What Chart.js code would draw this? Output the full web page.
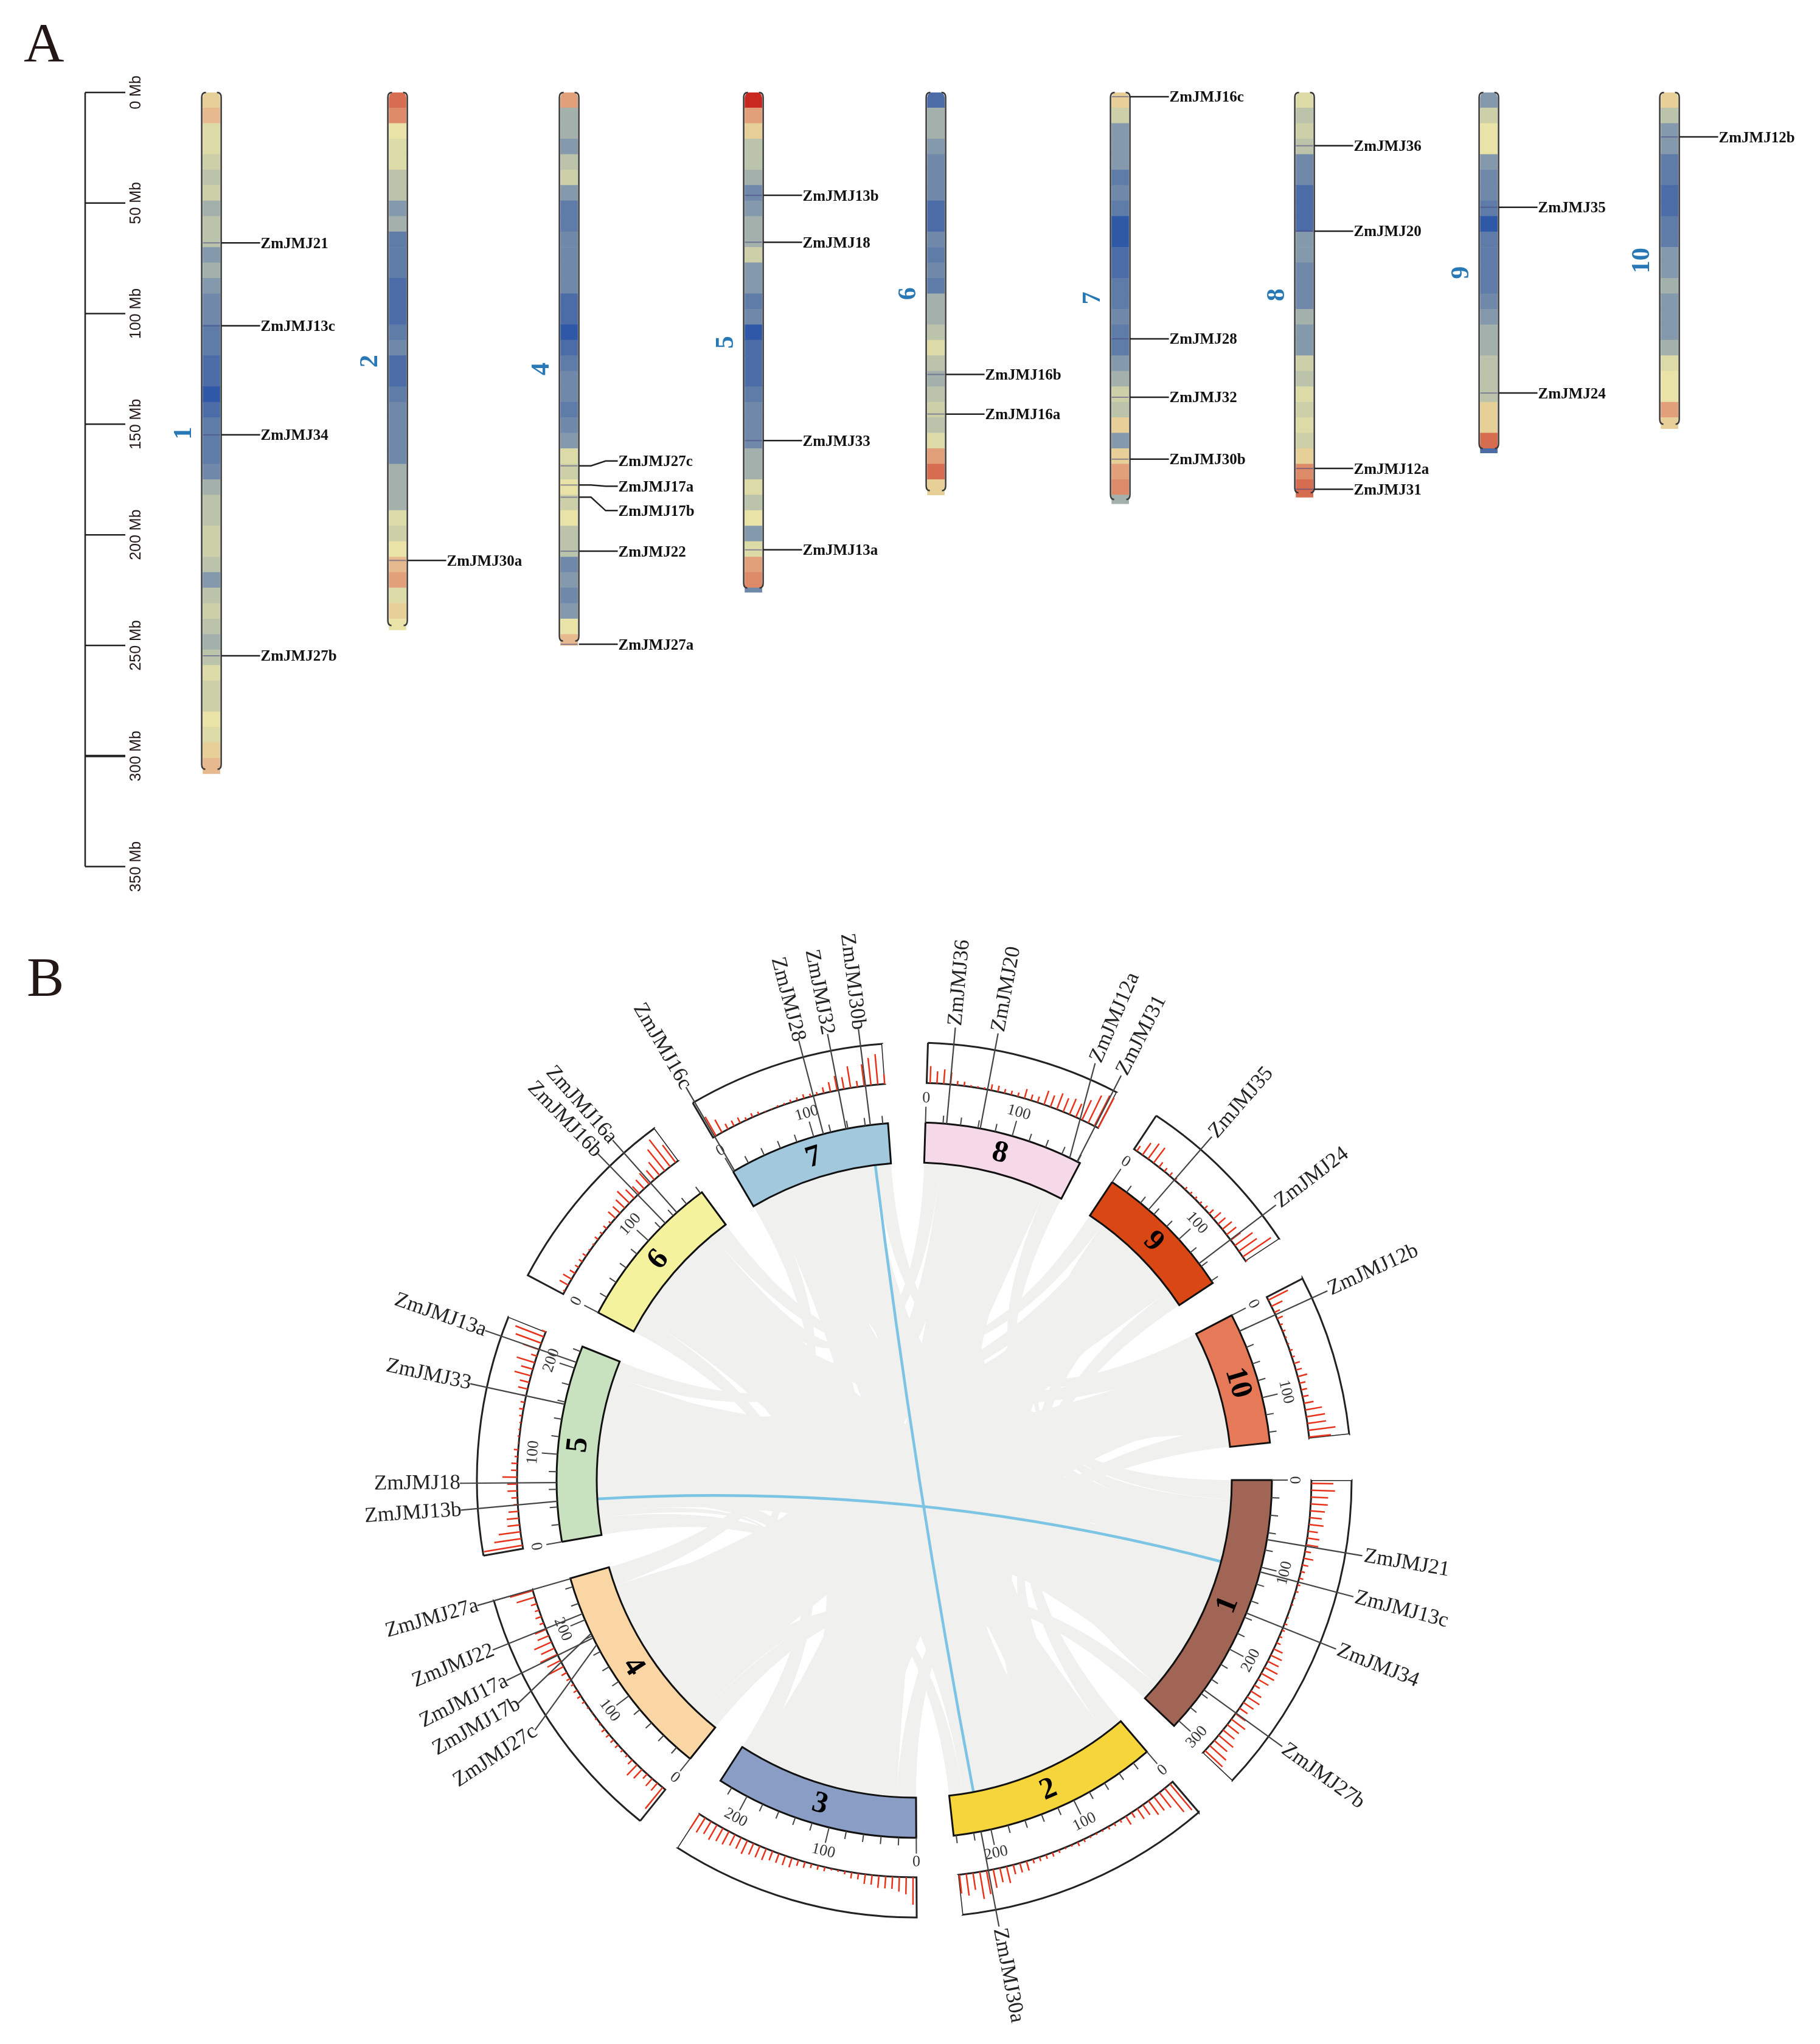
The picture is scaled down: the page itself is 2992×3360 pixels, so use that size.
<!DOCTYPE html>
<html>
<head>
<meta charset="utf-8">
<title>ZmJMJ genes on maize chromosomes</title>
<script src="https://cdn.jsdelivr.net/npm/chart.js@4"></script>
<style>
    html, body { margin: 0; padding: 0; background: #fff; }
    canvas { position: absolute; left: 0; display: block; }
    #mapChart { top: 0; }
    #circosChart { top: 1500px; }
</style>
</head>
<body>
<canvas id="mapChart" width="2992" height="1500"></canvas>
<canvas id="circosChart" width="2992" height="1860"></canvas>
<script>
//CHROMOSOMES
const chromNames = ['1', '2', '3', '4', '5', '6', '7', '8', '9', '10'];
const chromLengths = [308, 243, 235, 250, 226, 182, 186, 183, 163, 152];
const mapChroms = [1, 2, 4, 5, 6, 7, 8, 9, 10];
const binMb = 7;

//GENE DENSITY LEVEL PER 7 Mb BIN (0 = POOREST, 15 = RICHEST)
const density1 = [10, 11, 8, 8, 7, 6, 7, 5, 6, 6, 4, 5, 4, 3, 3, 2, 2, 1, 1, 0, 1, 2, 2, 2, 3, 5, 6, 6, 7, 7, 6, 4, 6, 7, 6, 5, 6, 8, 7, 7, 9, 8, 10, 11];
const density2 = [14, 13, 9, 8, 8, 6, 6, 4, 5, 2, 2, 2, 1, 1, 1, 2, 3, 1, 1, 2, 3, 3, 3, 3, 5, 5, 5, 8, 7, 9, 11, 12, 8, 10, 9];
const density3 = [12, 8, 7, 6, 6, 6, 5, 5, 4, 4, 2, 1, 1, 3, 3, 3, 4, 4, 5, 5, 5, 5, 6, 6, 6, 7, 6, 6, 7, 7, 8, 7, 8, 8];
const density4 = [12, 5, 5, 4, 6, 7, 4, 2, 2, 3, 3, 3, 3, 1, 1, 0, 1, 2, 3, 3, 2, 3, 4, 8, 7, 9, 7, 9, 6, 6, 3, 4, 3, 4, 9, 11];
const density5 = [15, 12, 10, 6, 6, 5, 3, 4, 5, 5, 7, 4, 4, 2, 3, 0, 1, 1, 1, 2, 3, 3, 3, 5, 5, 8, 6, 9, 4, 8, 12, 13, 3];
const density6 = [1, 5, 5, 4, 3, 3, 3, 1, 1, 3, 2, 3, 2, 5, 5, 6, 8, 6, 5, 6, 7, 6, 8, 12, 14, 10];
const density7 = [10, 7, 4, 4, 4, 2, 3, 2, 0, 0, 1, 1, 2, 2, 3, 2, 2, 4, 5, 7, 6, 10, 4, 10, 12, 13, 5];
const density8 = [8, 6, 7, 6, 3, 3, 1, 1, 1, 4, 4, 3, 3, 3, 5, 4, 4, 7, 6, 8, 7, 8, 7, 10, 13, 14, 14];
const density9 = [4, 7, 9, 9, 4, 3, 3, 2, 0, 2, 2, 2, 2, 3, 4, 5, 5, 6, 6, 6, 10, 10, 14, 1];
const density10 = [10, 6, 4, 4, 2, 2, 1, 1, 2, 2, 4, 4, 5, 4, 4, 4, 5, 8, 9, 9, 12, 10];
const densityByChrom = [density1, density2, density3, density4, density5, density6, density7, density8, density9, density10];
const levelCounts = [1.5, 3, 5, 7, 10, 16, 20, 24, 28, 31, 36, 39, 45, 50, 56, 64];

//GENES
const geneNames = ['ZmJMJ21', 'ZmJMJ13c', 'ZmJMJ34', 'ZmJMJ27b', 'ZmJMJ30a', 'ZmJMJ27c', 'ZmJMJ17a', 'ZmJMJ17b', 'ZmJMJ22', 'ZmJMJ27a',
    'ZmJMJ13b', 'ZmJMJ18', 'ZmJMJ33', 'ZmJMJ13a', 'ZmJMJ16b', 'ZmJMJ16a', 'ZmJMJ16c', 'ZmJMJ28', 'ZmJMJ32', 'ZmJMJ30b',
    'ZmJMJ36', 'ZmJMJ20', 'ZmJMJ12a', 'ZmJMJ31', 'ZmJMJ35', 'ZmJMJ24', 'ZmJMJ12b'];
const geneChroms = [1, 1, 1, 1, 2, 4, 4, 4, 4, 4, 5, 5, 5, 5, 6, 6, 7, 7, 7, 7, 8, 8, 8, 8, 9, 9, 10];
const geneMb = [68, 105.5, 154.8, 254.7, 211.6, 168.8, 177.5, 183, 207.4, 249.5, 46.5, 67.7, 157.4, 206.8, 127.5, 145.4, 1.9, 111.4, 137.8, 165.8, 24.1, 62.7, 170, 179.4, 51.9, 135.9, 20.1];

//AXIS TICKS
const mapTickStep = 50;
const mapMaxMb = 350;
const circosMinorStep = 20;
const circosMajorStep = 100;

//SYNTENY BLOCKS: CHROM A, START, END, CHROM B, START, END
const blocks = [
    //EXTREMOS DE CADA CROMOSOMA, CIERRAN LAS CUNAS BLANCAS
    [8, 160, 183, 1, 0, 25],
    [2, 0, 25, 9, 140, 163],
    [1, 285, 308, 4, 0, 25],
    [3, 0, 25, 10, 125, 152],
    [2, 225, 243, 5, 0, 22],
    [3, 210, 235, 6, 0, 22],
    [4, 225, 250, 7, 0, 22],
    [5, 205, 226, 8, 0, 20],
    [6, 160, 182, 9, 0, 20],
    [7, 165, 186, 10, 0, 20],
    //CUERPO DE LOS CROMOSOMAS
    [1, 25, 50, 9, 20, 40],
    [1, 50, 75, 8, 25, 50],
    [1, 75, 100, 7, 120, 145],
    [1, 100, 125, 5, 175, 205],
    [1, 125, 150, 6, 100, 125],
    [1, 150, 175, 5, 130, 155],
    [1, 175, 200, 4, 200, 225],
    [1, 200, 225, 5, 70, 95],
    [1, 225, 255, 5, 30, 55],
    [1, 255, 285, 9, 90, 115],
    [2, 25, 50, 7, 22, 45],
    [2, 50, 75, 10, 20, 40],
    [2, 75, 100, 7, 45, 70],
    [2, 100, 125, 10, 40, 60],
    [2, 125, 150, 7, 70, 95],
    [2, 150, 175, 4, 25, 50],
    [2, 175, 200, 10, 60, 85],
    [2, 200, 225, 6, 22, 45],
    [3, 25, 50, 8, 50, 75],
    [3, 50, 75, 10, 85, 110],
    [3, 75, 100, 8, 75, 100],
    [3, 100, 125, 9, 40, 60],
    [3, 125, 150, 8, 100, 125],
    [3, 150, 175, 6, 45, 70],
    [3, 175, 210, 8, 125, 160],
    [4, 50, 75, 9, 60, 75],
    [4, 75, 100, 7, 95, 120],
    [4, 100, 125, 9, 75, 90],
    [4, 125, 150, 6, 70, 100],
    [4, 150, 175, 8, 45, 60],
    [4, 175, 200, 9, 115, 140],
    [5, 95, 130, 7, 145, 165],
    [5, 155, 175, 10, 110, 125],
    [5, 22, 30, 4, 50, 60],
    [5, 55, 70, 3, 60, 80],
    [6, 125, 160, 7, 120, 145],
    //BLOQUES QUE CRUZAN EL CENTRO
    [1, 30, 60, 4, 120, 150],
    [1, 60, 90, 3, 130, 160],
    [1, 140, 170, 8, 60, 90],
    [1, 180, 215, 7, 30, 60],
    [1, 240, 270, 6, 130, 155],
    [2, 30, 60, 5, 120, 150],
    [2, 90, 120, 9, 50, 80],
    [2, 160, 190, 8, 110, 135],
    [2, 40, 70, 6, 60, 85],
    [3, 40, 70, 5, 40, 70],
    [3, 110, 140, 7, 100, 125],
    [3, 185, 215, 9, 100, 125],
    [4, 40, 70, 10, 30, 60],
    [4, 110, 140, 8, 20, 45],
    [4, 190, 220, 10, 90, 115],
    [5, 150, 180, 9, 30, 55],
    [5, 60, 90, 10, 60, 85],
    [6, 80, 110, 10, 10, 35],
    [6, 30, 60, 1, 110, 135],
    [7, 20, 50, 3, 60, 90],
    [7, 130, 160, 1, 210, 240],
    [8, 90, 120, 4, 60, 85],
    [9, 60, 90, 5, 100, 125],
    [10, 100, 130, 7, 60, 85],
    //BLOQUES ANCHOS OPUESTOS
    [1, 40, 90, 6, 40, 90],
    [1, 120, 170, 6, 60, 110],
    [1, 200, 250, 6, 100, 150],
    [1, 60, 110, 7, 60, 110],
    [1, 160, 210, 7, 100, 150],
    [1, 230, 280, 7, 20, 70],
    [2, 40, 90, 7, 100, 150],
    [2, 110, 160, 7, 40, 90],
    [2, 170, 220, 7, 30, 70],
    [2, 40, 90, 8, 60, 110],
    [2, 130, 180, 8, 30, 80],
    [2, 190, 225, 8, 90, 140],
    [3, 30, 80, 8, 90, 140],
    [3, 100, 150, 8, 30, 80],
    [3, 160, 205, 8, 60, 100],
    [3, 40, 90, 9, 60, 110],
    [3, 110, 160, 9, 30, 80],
    [3, 170, 205, 9, 90, 130],
    [4, 30, 80, 9, 90, 130],
    [4, 100, 150, 9, 30, 80],
    [4, 160, 215, 9, 60, 110],
    [4, 30, 80, 10, 60, 110],
    [4, 100, 150, 10, 30, 70],
    [4, 170, 215, 10, 80, 120],
    [5, 30, 80, 10, 70, 120],
    [5, 100, 150, 10, 30, 80],
    [5, 160, 200, 10, 50, 100],
    [5, 30, 80, 1, 150, 200],
    [5, 90, 140, 1, 40, 90],
    [5, 150, 200, 1, 220, 270],
    [6, 30, 80, 2, 100, 150],
    [6, 90, 150, 2, 160, 210],
    [6, 40, 90, 3, 100, 150]
];

//DUPLICATED GENE PAIRS
const genePairs = [['ZmJMJ13b', 'ZmJMJ13c'], ['ZmJMJ30a', 'ZmJMJ30b']];

//STYLES AND LAYOUT
const heatColors = ['#2f58a6', '#4c6ca8', '#5f7ca9', '#7088aa', '#8499ac', '#a3b0ab', '#bcc3ab', '#cdcfa9', '#dcdba8', '#e9e3a8',
    '#e7cf98', '#e6ba8e', '#e19f7a', '#dd8a68', '#d66c50', '#c8281f'];
const ideogramColors = ['#a06555', '#f5d53a', '#8a9dc4', '#f9d6a3', '#c8e2bf', '#f4f29d', '#a1c8dc', '#f6d9e8', '#d94715', '#e67a58'];
const columnSlots = [0, 1.02, 1.96, 2.97, 3.97, 4.98, 5.99, 7.0, 7.99];
const mapLabelShift = { ZmJMJ27c: -8, ZmJMJ17a: 2, ZmJMJ17b: 22 };
const labelFan = { ZmJMJ12a: -2.3, ZmJMJ17b: -4, ZmJMJ27c: -6, ZmJMJ13b: -0.4 };
const gapMb = 42.56;
const serif = '"Liberation Serif"';
const sans = '"Liberation Sans"';

//ARMA LAS BARRAS DEL MAPA
var mapBins = [];
mapChroms.forEach(function (chrom, c) {
    var levels = densityByChrom[chrom - 1];
    var len = chromLengths[chrom - 1];
    for (var i = 0; i < levels.length; i++) {
        mapBins.push({
            x: columnSlots[c],
            y: [i * binMb, Math.min((i + 1) * binMb, len)],
            level: levels[i],
            first: i == 0
        });
    }
});

//ESQUINAS, EJE, ETIQUETAS Y GENES DEL MAPA
const mapPlugin = {
    id: 'mapPlugin',
    afterDatasetsDraw: function (chart) {
        var ctx = chart.ctx;
        var xs = chart.scales.x;
        var ys = chart.scales.y;
        ctx.save();

        //A
        ctx.fillStyle = '#231815';
        ctx.font = '92px ' + serif;
        ctx.textAlign = 'left';
        ctx.textBaseline = 'alphabetic';
        ctx.fillText('A', 39, 101);

        //ESCALA EN Mb
        ctx.strokeStyle = '#222';
        ctx.lineWidth = 2.5;
        var axisX = 140;
        ctx.beginPath();
        ctx.moveTo(axisX, ys.getPixelForValue(0));
        ctx.lineTo(axisX, ys.getPixelForValue(mapMaxMb));
        ctx.stroke();
        ctx.font = '25px ' + sans;
        ctx.textAlign = 'center';
        ctx.textBaseline = 'middle';
        ys.ticks.forEach(function (t) {
            var y = ys.getPixelForValue(t.value);
            ctx.lineWidth = t.value == 300 ? 4 : 2.5;
            ctx.beginPath();
            ctx.moveTo(axisX, y);
            ctx.lineTo(206, y);
            ctx.stroke();
            ctx.save();
            ctx.translate(224, y);
            ctx.rotate(-Math.PI / 2);
            ctx.fillText(t.value + ' Mb', 0, 0);
            ctx.restore();
        });

        //CONTORNO Y NOMBRE DE CADA CROMOSOMA
        mapChroms.forEach(function (chrom, c) {
            var x = xs.getPixelForValue(columnSlots[c]);
            var len = chromLengths[chrom - 1];
            var top = ys.getPixelForValue(0);
            var bottom = ys.getPixelForValue(len - 2);
            [-1, 1].forEach(function (side) {
                ctx.strokeStyle = '#3a3a3a';
                ctx.lineWidth = 2.5;
                ctx.beginPath();
                ctx.moveTo(x + side * 9, top);
                ctx.quadraticCurveTo(x + side * 16, top, x + side * 16, top + 8);
                ctx.lineTo(x + side * 16, bottom - 8);
                ctx.quadraticCurveTo(x + side * 16, bottom, x + side * 10, bottom);
                ctx.stroke();
            });
            ctx.save();
            ctx.translate(x - 44, ys.getPixelForValue(len / 2));
            ctx.rotate(-Math.PI / 2);
            ctx.fillStyle = '#2878b5';
            ctx.font = 'bold 42px ' + serif;
            ctx.textAlign = 'center';
            ctx.textBaseline = 'middle';
            ctx.fillText(chromNames[chrom - 1], 0, 0);
            ctx.restore();
        });

        //GENES
        geneNames.forEach(function (name, g) {
            var c = mapChroms.indexOf(geneChroms[g]);
            var x = xs.getPixelForValue(columnSlots[c]);
            var y = ys.getPixelForValue(geneMb[g]);
            var labelY = y + (mapLabelShift[name] || 0);
            ctx.strokeStyle = 'rgba(70,70,130,0.55)';
            ctx.lineWidth = 2;
            ctx.beginPath();
            ctx.moveTo(x - 14, y);
            ctx.lineTo(x + 14, y);
            ctx.stroke();
            ctx.strokeStyle = '#222';
            ctx.lineWidth = 2.5;
            ctx.beginPath();
            ctx.moveTo(x + 16, y);
            ctx.lineTo(x + 36, y);
            ctx.lineTo(x + 60, labelY);
            ctx.lineTo(x + 80, labelY);
            ctx.stroke();
            ctx.fillStyle = '#111';
            ctx.font = 'bold 25px ' + serif;
            ctx.textAlign = 'left';
            ctx.textBaseline = 'middle';
            ctx.fillText(name, x + 81, labelY + 2);
        });
        ctx.restore();
    }
};

new Chart(document.getElementById('mapChart').getContext('2d'), {
    type: 'bar',
    data: {
        datasets: [{
            label: 'Gene density',
            data: mapBins,
            backgroundColor: function (c) { return heatColors[c.raw.level]; },
            borderWidth: 0,
            borderSkipped: false,
            borderRadius: function (c) {
                return c.raw.first ? { topLeft: 9, topRight: 9, bottomLeft: 0, bottomRight: 0 } : 0;
            },
            barThickness: 28,
            grouped: false
        }]
    },
    options: {
        responsive: false,
        devicePixelRatio: 1,
        animation: false,
        layout: { padding: { top: 152, bottom: 75.5, left: 0, right: 0 } },
        plugins: { legend: { display: false }, tooltip: { enabled: false } },
        scales: {
            x: { type: 'linear', display: false, offset: false, min: -1.1587, max: 8.8147, grid: { display: false } },
            y: { type: 'linear', display: false, reverse: true, min: 0, max: mapMaxMb, ticks: { stepSize: mapTickStep }, grid: { display: false } }
        }
    },
    plugins: [mapPlugin]
});

//DATOS DE LOS ANILLOS: CROMOSOMA Y HUECO INTERCALADOS
var ringData = [];
var ringLabels = [];
chromLengths.forEach(function (len, i) {
    ringData.push(len, gapMb);
    ringLabels.push(chromNames[i], 'gap');
});

function everyOther(a, b) {
    return ringData.map(function (v, i) { return i % 2 == 0 ? a(i / 2) : b; });
}

//PUNTOS SOBRE EL CIRCULO A PARTIR DE LOS ARCOS
function arcInfo(chart) {
    var frame = chart.getDatasetMeta(0).data;
    var ideo = chart.getDatasetMeta(2).data;
    return {
        cx: ideo[0].x,
        cy: ideo[0].y,
        rIn: ideo[0].innerRadius,
        rOut: ideo[0].outerRadius,
        boxIn: frame[0].innerRadius,
        boxOut: frame[0].outerRadius,
        angle: function (chrom, mb) {
            var arc = ideo[(chrom - 1) * 2];
            return arc.startAngle + (mb / chromLengths[chrom - 1]) * (arc.endAngle - arc.startAngle);
        }
    };
}

function polar(info, a, r) {
    return { x: info.cx + Math.cos(a) * r, y: info.cy + Math.sin(a) * r };
}

function findGene(name) {
    return geneNames.indexOf(name);
}

const circosPlugin = {
    id: 'circosPlugin',
    beforeDatasetsDraw: function (chart) {
        var ctx = chart.ctx;
        var info = arcInfo(chart);
        var r = info.rIn + 1;
        ctx.save();
        ctx.fillStyle = '#f0f0ef';
        blocks.forEach(function (b) {
            var a0 = info.angle(b[0], b[1]);
            var a1 = info.angle(b[0], b[2]);
            var b0 = info.angle(b[3], b[4]);
            var b1 = info.angle(b[3], b[5]);
            var p0 = polar(info, a0, r);
            var p1 = polar(info, b0, r);
            ctx.beginPath();
            ctx.moveTo(p0.x, p0.y);
            ctx.arc(info.cx, info.cy, r, a0, a1);
            ctx.quadraticCurveTo(info.cx, info.cy, p1.x, p1.y);
            ctx.arc(info.cx, info.cy, r, b0, b1);
            ctx.quadraticCurveTo(info.cx, info.cy, p0.x, p0.y);
            ctx.fill();
        });
        //PARES DUPLICADOS
        ctx.strokeStyle = '#7cc4e4';
        ctx.lineWidth = 4.5;
        genePairs.forEach(function (pair) {
            var g0 = findGene(pair[0]);
            var g1 = findGene(pair[1]);
            var p0 = polar(info, info.angle(geneChroms[g0], geneMb[g0]), r);
            var p1 = polar(info, info.angle(geneChroms[g1], geneMb[g1]), r);
            ctx.beginPath();
            ctx.moveTo(p0.x, p0.y);
            ctx.quadraticCurveTo(info.cx, info.cy, p1.x, p1.y);
            ctx.stroke();
        });
        ctx.restore();
    },
    afterDatasetsDraw: function (chart) {
        var ctx = chart.ctx;
        var info = arcInfo(chart);
        var densityAxis = chart.scales.density;
        ctx.save();

        //B
        ctx.fillStyle = '#231815';
        ctx.font = '92px ' + serif;
        ctx.textAlign = 'left';
        ctx.textBaseline = 'alphabetic';
        ctx.fillText('B', 44, 137);

        chromLengths.forEach(function (len, i) {
            var chrom = i + 1;
            var topOut = chrom >= 5;
            var facing = function (a) { return topOut ? a + Math.PI / 2 : a - Math.PI / 2; };

            //HISTOGRAMA ROJO DE DENSIDAD
            ctx.strokeStyle = '#e8321a';
            ctx.lineWidth = 2.5;
            densityByChrom[i].forEach(function (level, k) {
                var mid = Math.min((k + 0.5) * binMb, len);
                var a = info.angle(chrom, mid);
                var d = densityAxis.getDecimalForPixel(densityAxis.getPixelForValue(levelCounts[level]));
                var p0 = polar(info, a, info.boxIn);
                var p1 = polar(info, a, info.boxIn + d * (info.boxOut - info.boxIn));
                ctx.beginPath();
                ctx.moveTo(p0.x, p0.y);
                ctx.lineTo(p1.x, p1.y);
                ctx.stroke();
            });

            //MARCAS DEL EJE
            ctx.strokeStyle = '#444';
            ctx.fillStyle = '#333';
            ctx.lineWidth = 2;
            ctx.font = '26px ' + serif;
            ctx.textAlign = 'center';
            ctx.textBaseline = 'middle';
            for (var mb = 0; mb <= len; mb += circosMinorStep) {
                var major = mb % circosMajorStep == 0;
                var a = info.angle(chrom, mb);
                var p0 = polar(info, a, info.rOut);
                var p1 = polar(info, a, info.rOut + (major ? 26 : 13));
                ctx.beginPath();
                ctx.moveTo(p0.x, p0.y);
                ctx.lineTo(p1.x, p1.y);
                ctx.stroke();
                if (major) {
                    var p2 = polar(info, a, info.rOut + 40);
                    ctx.save();
                    ctx.translate(p2.x, p2.y);
                    ctx.rotate(facing(a));
                    ctx.fillText(String(mb), 0, 0);
                    ctx.restore();
                }
            }

            //NOMBRE DEL CROMOSOMA
            var midA = info.angle(chrom, len / 2);
            var pm = polar(info, midA, (info.rIn + info.rOut) / 2);
            ctx.save();
            ctx.translate(pm.x, pm.y);
            ctx.rotate(facing(midA));
            ctx.fillStyle = '#000';
            ctx.font = 'bold 50px ' + serif;
            ctx.textAlign = 'center';
            ctx.textBaseline = 'middle';
            ctx.fillText(chromNames[i], 0, 0);
            ctx.restore();
        });

        //LINEAS Y NOMBRES DE LOS GENES
        geneNames.forEach(function (name, g) {
            var a = info.angle(geneChroms[g], geneMb[g]);
            var end = a + (labelFan[name] || 0) * Math.PI / 180;
            var norm = (end + Math.PI * 2) % (Math.PI * 2);
            var rightSide = norm < Math.PI / 2 || norm > Math.PI * 1.5;
            var p0 = polar(info, a, info.rOut);
            var p1 = polar(info, end, 747);
            var p2 = polar(info, end, rightSide ? 750 : 746);
            ctx.strokeStyle = '#444';
            ctx.lineWidth = 2.2;
            ctx.beginPath();
            ctx.moveTo(p0.x, p0.y);
            ctx.lineTo(p1.x, p1.y);
            ctx.stroke();
            ctx.save();
            ctx.translate(p2.x, p2.y);
            ctx.rotate(rightSide ? end : end + Math.PI);
            ctx.fillStyle = '#222';
            ctx.font = '35px ' + serif;
            ctx.textAlign = rightSide ? 'left' : 'right';
            ctx.textBaseline = 'middle';
            ctx.fillText(name, 0, 0);
            ctx.restore();
        });
        ctx.restore();
    }
};

new Chart(document.getElementById('circosChart').getContext('2d'), {
    type: 'doughnut',
    data: {
        labels: ringLabels,
        datasets: [{
            label: 'Density frame',
            data: ringData,
            weight: 66,
            backgroundColor: '#fff',
            borderColor: everyOther(function () { return '#222'; }, 'rgba(0,0,0,0)'),
            borderWidth: everyOther(function () { return 3; }, 0),
            borderJoinStyle: 'miter'
        }, {
            label: 'Tick band',
            data: ringData,
            weight: 65,
            backgroundColor: 'rgba(0,0,0,0)',
            borderWidth: 0
        }, {
            label: 'Chromosomes',
            data: ringData,
            weight: 66,
            backgroundColor: everyOther(function (i) { return ideogramColors[i]; }, 'rgba(0,0,0,0)'),
            borderColor: everyOther(function () { return '#111'; }, 'rgba(0,0,0,0)'),
            borderWidth: everyOther(function () { return 3; }, 0),
            borderJoinStyle: 'miter'
        }]
    },
    options: {
        responsive: false,
        devicePixelRatio: 1,
        animation: false,
        rotation: 90,
        circumference: 360,
        radius: 719,
        cutout: (522 / 719 * 100) + '%',
        layout: { padding: { top: 6, bottom: 0, left: 14, right: 0 } },
        plugins: { legend: { display: false }, tooltip: { enabled: false } },
        scales: {
            density: { type: 'linear', axis: 'y', display: false, min: 0, max: 66 }
        }
    },
    plugins: [circosPlugin]
});
</script>
</body>
</html>
